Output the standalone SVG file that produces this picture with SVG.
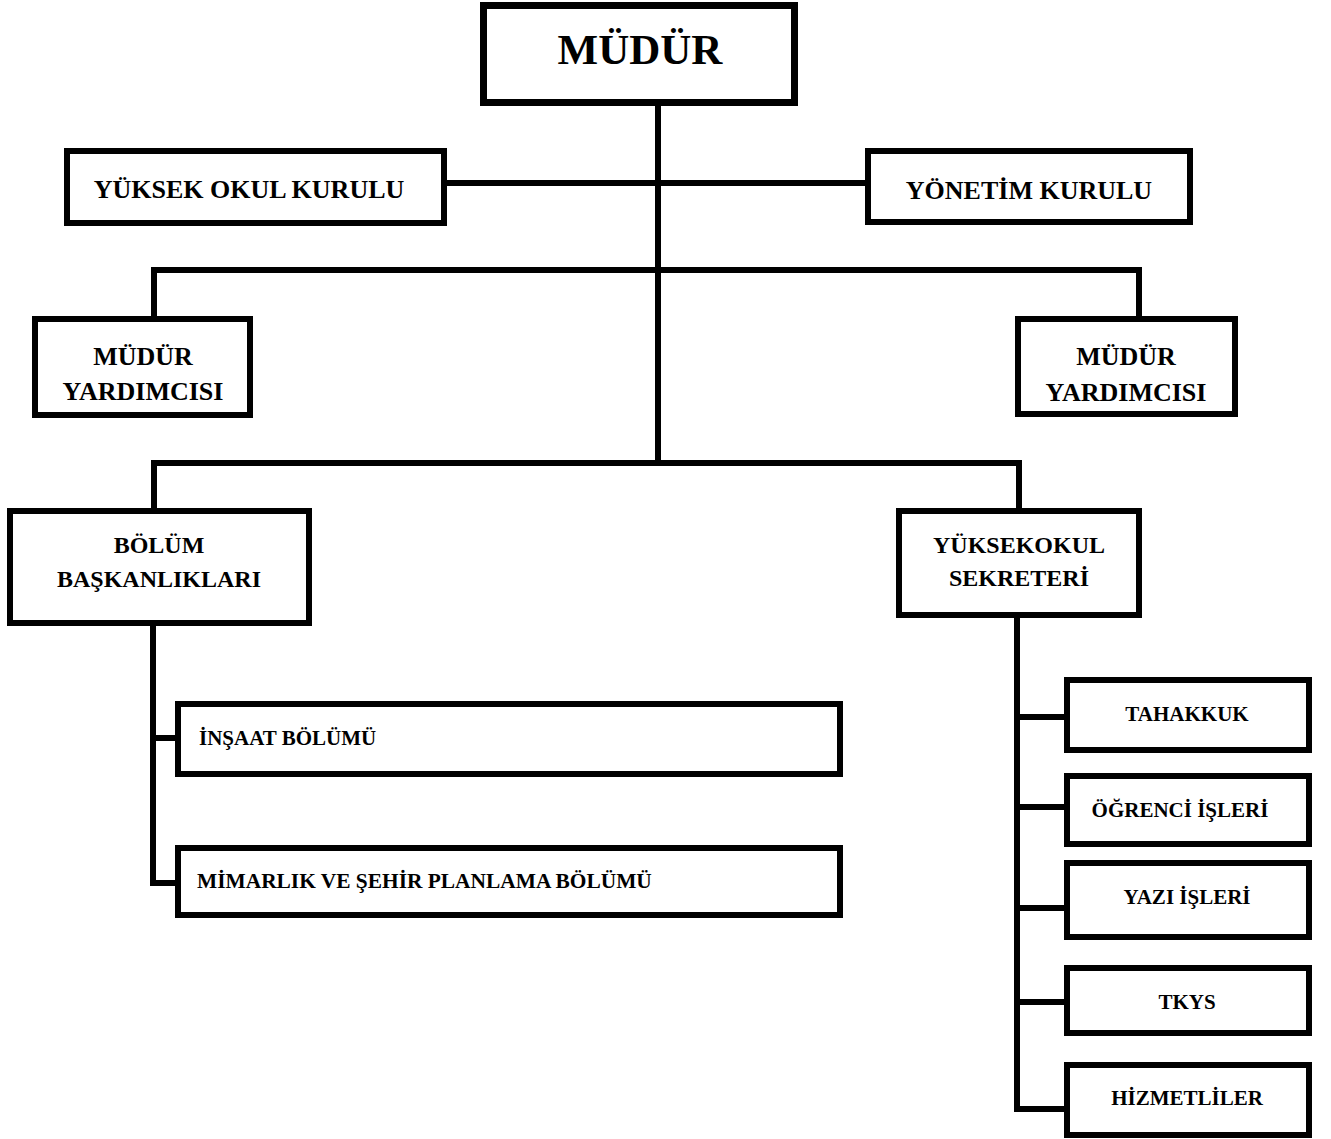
<svg xmlns="http://www.w3.org/2000/svg" width="1331" height="1139" viewBox="0 0 1331 1139">
<style>
.box{fill:#fff;stroke:#000;stroke-width:6}
.line{fill:none;stroke:#000;stroke-width:6;stroke-linejoin:miter}
text{font-family:"Liberation Serif","Times New Roman",serif;font-weight:bold;fill:#000;text-anchor:middle}
.t26{font-size:26px}
.t24{font-size:24px}
.t21{font-size:21px}
.left{text-anchor:start}
</style>
<rect width="1331" height="1139" fill="#fff"/>
<g id="connectors">
<path class="line" d="M658,106 V463"/>
<path class="line" d="M447,183 H865"/>
<path class="line" d="M154,316 V270 H1139 V316"/>
<path class="line" d="M154,508 V463 H1019 V508"/>
<path class="line" d="M153,626 V883 H178 M153,738 H175"/>
<path class="line" d="M1017,618 V1109 H1064 M1017,717 H1064 M1017,807 H1064 M1017,908 H1064 M1017,1002 H1064"/>
</g>
<g id="mudur">
<rect class="box" x="483.5" y="5.5" width="311" height="97" style="stroke-width:7"/>
<text x="640" y="64" style="font-size:43px">MÜDÜR</text>
</g>
<g id="yuksek-okul-kurulu">
<rect class="box" x="67" y="151" width="377" height="72"/>
<text class="t26" x="249" y="198">YÜKSEK OKUL KURULU</text>
</g>
<g id="yonetim-kurulu">
<rect class="box" x="868" y="151" width="322" height="71"/>
<text class="t26" x="1029" y="199">YÖNETİM KURULU</text>
</g>
<g id="mudur-yardimcisi-1">
<rect class="box" x="35" y="319" width="215" height="96"/>
<text class="t26" x="143" y="365">MÜDÜR</text>
<text class="t26" x="143" y="400">YARDIMCISI</text>
</g>
<g id="mudur-yardimcisi-2">
<rect class="box" x="1018" y="319" width="217" height="95"/>
<text class="t26" x="1126" y="365">MÜDÜR</text>
<text class="t26" x="1126" y="401">YARDIMCISI</text>
</g>
<g id="bolum-baskanliklari">
<rect class="box" x="10" y="511" width="299" height="112"/>
<text class="t24" x="159" y="553">BÖLÜM</text>
<text class="t24" x="159" y="587">BAŞKANLIKLARI</text>
</g>
<g id="yuksekokul-sekreteri">
<rect class="box" x="899" y="511" width="240" height="104"/>
<text class="t24" x="1019" y="553">YÜKSEKOKUL</text>
<text class="t24" x="1019" y="586">SEKRETERİ</text>
</g>
<g id="insaat">
<rect class="box" x="178" y="704" width="662" height="70"/>
<text class="t21 left" x="199" y="745">İNŞAAT BÖLÜMÜ</text>
</g>
<g id="mimarlik">
<rect class="box" x="178" y="848" width="662" height="67"/>
<text class="t21 left" x="197" y="888" style="font-size:21.4px">MİMARLIK VE ŞEHİR PLANLAMA BÖLÜMÜ</text>
</g>
<g id="tahakkuk">
<rect class="box" x="1067" y="680" width="242" height="70"/>
<text class="t21" x="1187" y="721">TAHAKKUK</text>
</g>
<g id="ogrenci-isleri">
<rect class="box" x="1067" y="776" width="242" height="68"/>
<text class="t21" x="1180" y="817">ÖĞRENCİ İŞLERİ</text>
</g>
<g id="yazi-isleri">
<rect class="box" x="1067" y="863" width="242" height="74"/>
<text class="t21" x="1187" y="904">YAZI İŞLERİ</text>
</g>
<g id="tkys">
<rect class="box" x="1067" y="968" width="242" height="65"/>
<text class="t21" x="1187" y="1009">TKYS</text>
</g>
<g id="hizmetliler">
<rect class="box" x="1067" y="1065" width="242" height="70"/>
<text class="t21" x="1187" y="1105">HİZMETLİLER</text>
</g>
</svg>
